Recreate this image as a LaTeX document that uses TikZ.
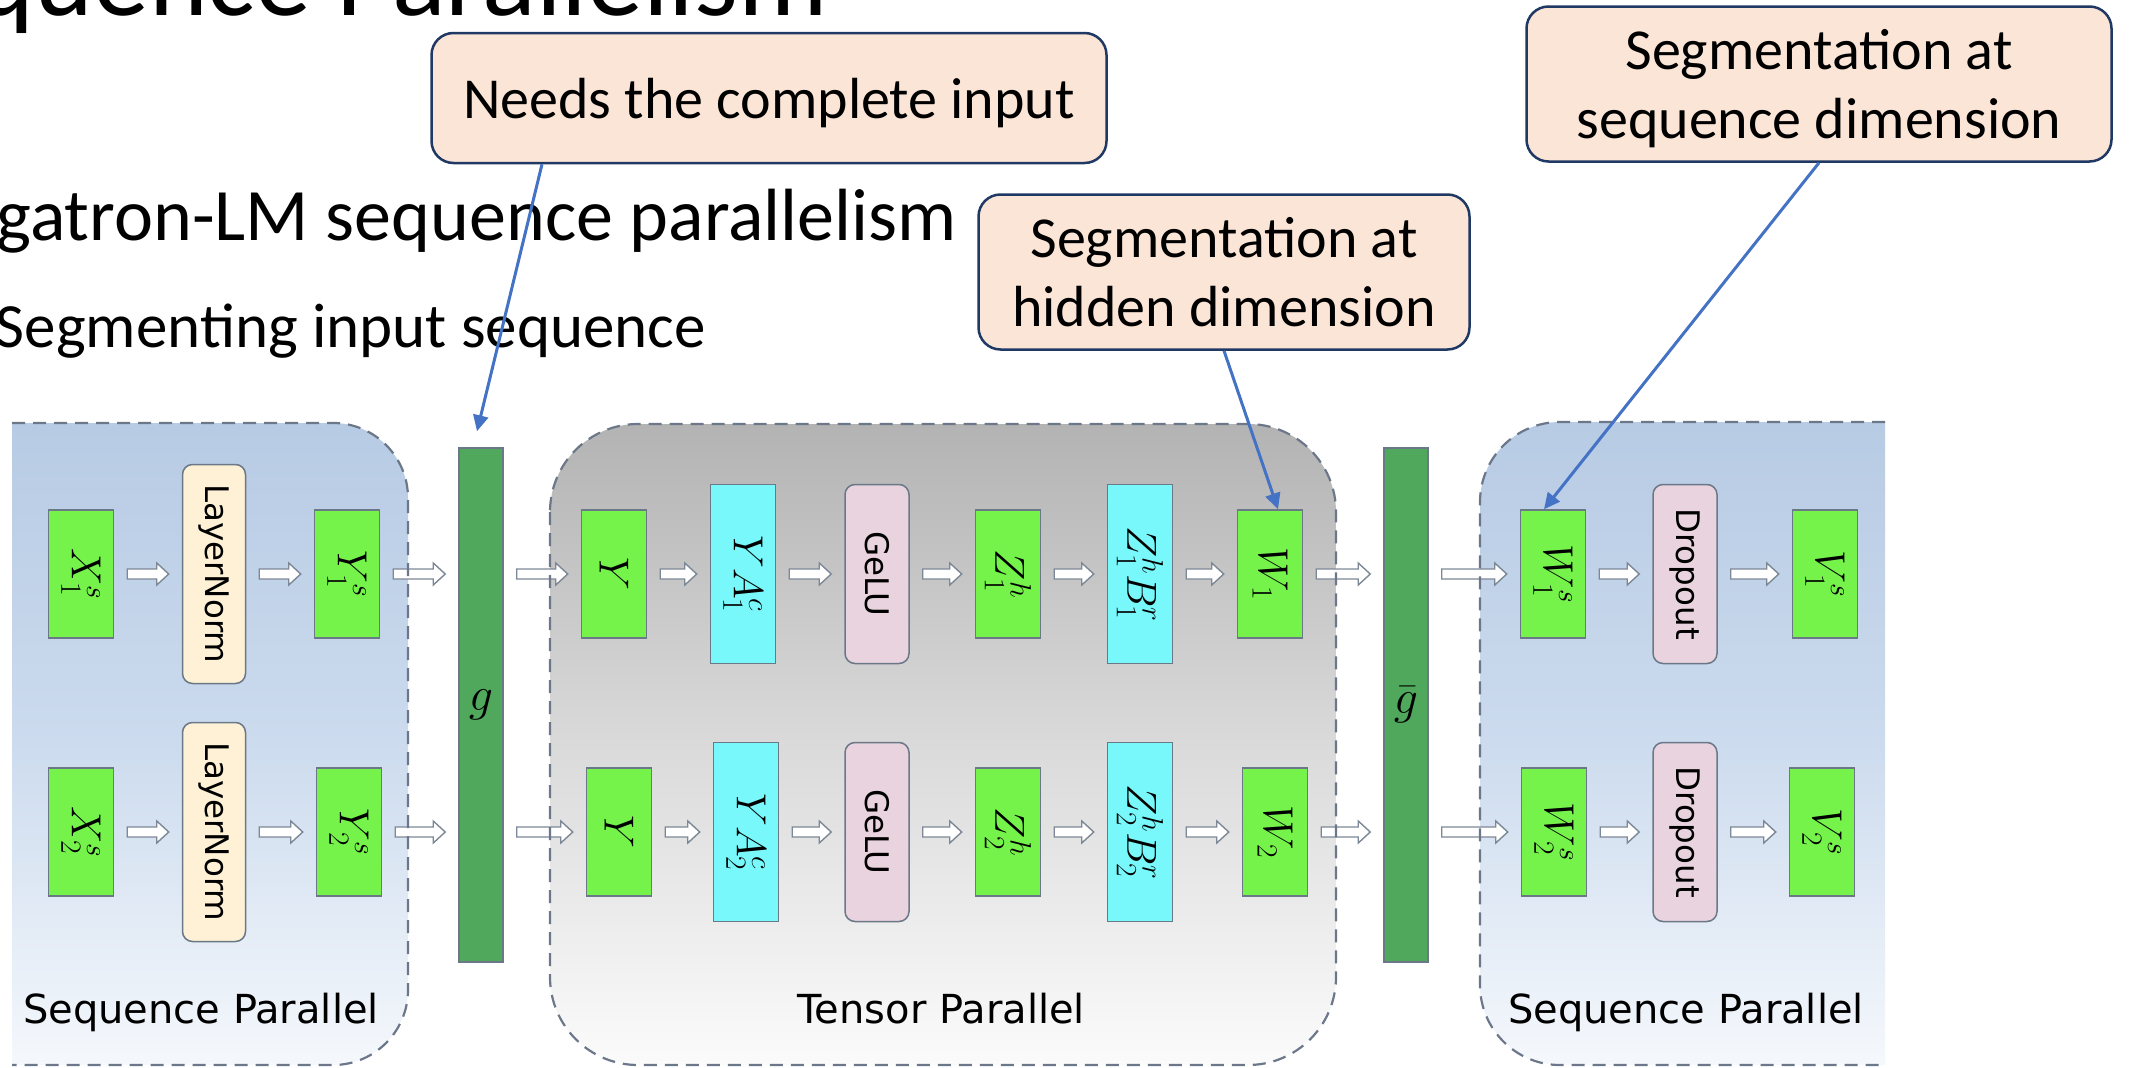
\RequirePackage{fix-cm}
\documentclass[tikz,border=0pt]{standalone}
\usepackage{graphicx}
\usepackage[no-math]{fontspec}
\setmainfont{Carlito}
\newfontfamily\boxfont{DejaVu Sans}
\usetikzlibrary{arrows.meta,calc}

\definecolor{vecgreen}{HTML}{75F34B}
\definecolor{matcyan}{HTML}{78F8FA}
\definecolor{normcream}{HTML}{FEF1D5}
\definecolor{actpink}{HTML}{E8D3DE}
\definecolor{bargreen}{HTML}{4FA85B}
\definecolor{boxline}{HTML}{6B7888}
\definecolor{pipeline}{HTML}{7D8896}
\definecolor{dashgray}{HTML}{6C7789}
\definecolor{spTop}{HTML}{B7CBE4}
\definecolor{spMid}{HTML}{CCDBEE}
\definecolor{spBot}{HTML}{F5F8FC}
\definecolor{tpTop}{HTML}{B3B3B3}
\definecolor{tpMid}{HTML}{DADADA}
\definecolor{tpBot}{HTML}{FBFBFB}
\definecolor{notefill}{HTML}{FBE5D6}
\definecolor{noteline}{HTML}{1F3864}
\definecolor{hintblue}{HTML}{4472C4}

\begin{document}
\begin{tikzpicture}[x=1pt,y=-1pt,
  every node/.style={inner sep=0pt},
  tensor/.style={draw=boxline,line width=1.5pt,fill=vecgreen,minimum width=65pt,minimum height=128pt,font=\fontsize{42}{50}\selectfont},
  matbox/.style={draw=boxline,line width=1.5pt,fill=matcyan,minimum width=65pt,minimum height=179pt,font=\fontsize{42}{50}\selectfont},
  normbox/.style={draw=boxline,line width=1.5pt,fill=normcream,rounded corners=10pt,minimum width=63pt,minimum height=219pt,font=\boxfont\fontsize{32.5}{39}\selectfont},
  actbox/.style={draw=boxline,line width=1.5pt,fill=actpink,rounded corners=10pt,minimum width=64pt,minimum height=179pt,font=\boxfont\fontsize{32.5}{39}\selectfont},
  gbar/.style={draw=boxline,line width=1.5pt,fill=bargreen,minimum width=44pt,minimum height=514pt,font=\fontsize{48}{56}\selectfont},
  pipe/.style={draw=pipeline,fill=white,line width=1.4pt,line join=miter},
  border/.style={draw=dashgray,line width=2.2pt,dash pattern=on 13pt off 8pt},
  part/.style={anchor=base,font=\boxfont\fontsize{40}{48}\selectfont},
  note/.style={draw=noteline,line width=2.5pt,fill=notefill,rounded corners=22pt,align=center,text depth=0pt,font=\fontsize{58}{69}\selectfont},
  hint/.style={draw=hintblue,line width=3pt,-{Triangle[length=16pt,width=15pt]}}]
\useasboundingbox (0,0) rectangle (2129,1068);

\node[anchor=base east,font=\fontsize{112}{134}\selectfont] (title) at (828,15) {quence Parallelism};
\node[anchor=base east,font=\fontsize{74}{89}\selectfont] (bullet) at (957,240) {gatron-LM sequence parallelism};
\node[anchor=base east,font=\fontsize{63}{76}\selectfont] (subbullet) at (706,347) {Segmenting input sequence};

\path[top color=spTop,bottom color=spBot,middle color=spMid] (12,423) -- (333,423) arc[start angle=90,end angle=0,radius=75pt] -- (408,990) arc[start angle=0,end angle=-90,radius=75pt] -- (12,1065) -- cycle;
\path[top color=tpTop,bottom color=tpBot,middle color=tpMid,rounded corners=88pt] (550,424) rectangle (1336,1065);
\path[top color=spTop,bottom color=spBot,middle color=spMid] (1885,422) -- (1560,422) arc[start angle=90,end angle=180,radius=80pt] -- (1480,985) arc[start angle=180,end angle=270,radius=80pt] -- (1885,1065) -- cycle;

\coordinate (r1) at (0,574);
\coordinate (r2) at (0,832);

\node[tensor] (x1) at (81,574) {\rotatebox{-90}{$X_1^s$}};
\node[normbox] (ln1) at (214,574) {\rotatebox{-90}{LayerNorm}};
\node[tensor] (y1) at (347,574) {\rotatebox{-90}{$Y_1^s$}};
\node[tensor] (x2) at (81,832) {\rotatebox{-90}{$X_2^s$}};
\node[normbox] (ln2) at (214,832) {\rotatebox{-90}{LayerNorm}};
\node[tensor] (y2) at (349,832) {\rotatebox{-90}{$Y_2^s$}};

\node[gbar] (g) at (481,705) {$g$};

\node[tensor] (ya) at (614,574) {\rotatebox{-90}{$Y$}};
\node[matbox] (a1) at (743,574) {\rotatebox{-90}{$YA_1^c$}};
\node[actbox] (gl1) at (877,574) {\rotatebox{-90}{GeLU}};
\node[tensor] (z1) at (1008,574) {\rotatebox{-90}{$Z_1^h$}};
\node[matbox] (b1) at (1140,574) {\rotatebox{-90}{$Z_1^hB_1^r$}};
\node[tensor] (w1) at (1270,574) {\rotatebox{-90}{$W_1$}};
\node[tensor] (yb) at (619,832) {\rotatebox{-90}{$Y$}};
\node[matbox] (a2) at (746,832) {\rotatebox{-90}{$YA_2^c$}};
\node[actbox] (gl2) at (877,832) {\rotatebox{-90}{GeLU}};
\node[tensor] (z2) at (1008,832) {\rotatebox{-90}{$Z_2^h$}};
\node[matbox] (b2) at (1140,832) {\rotatebox{-90}{$Z_2^hB_2^r$}};
\node[tensor] (w2) at (1275,832) {\rotatebox{-90}{$W_2$}};

\node[gbar] (gb) at (1406,705) {$\bar{g}$};

\node[tensor] (ws1) at (1553,574) {\rotatebox{-90}{$W_1^s$}};
\node[actbox] (d1) at (1685,574) {\rotatebox{-90}{Dropout}};
\node[tensor] (v1) at (1825,574) {\rotatebox{-90}{$V_1^s$}};
\node[tensor] (ws2) at (1554,832) {\rotatebox{-90}{$W_2^s$}};
\node[actbox] (d2) at (1685,832) {\rotatebox{-90}{Dropout}};
\node[tensor] (v2) at (1822,832) {\rotatebox{-90}{$V_2^s$}};

\foreach \src/\dst/\rw in {x1/ln1/r1,ln1/y1/r1,y1/g/r1,g/ya/r1,ya/a1/r1,a1/gl1/r1,gl1/z1/r1,z1/b1/r1,b1/w1/r1,w1/gb/r1,gb/ws1/r1,ws1/d1/r1,d1/v1/r1,
  x2/ln2/r2,ln2/y2/r2,y2/g/r2,g/yb/r2,yb/a2/r2,a2/gl2/r2,gl2/z2/r2,z2/b2/r2,b2/w2/r2,w2/gb/r2,gb/ws2/r2,ws2/d2/r2,d2/v2/r2}
  \draw[pipe] ($(\src.east |- \rw)+(13,5)$) -- ($(\dst.west |- \rw)+(-25,5)$) -- ++(0,6) -- ($(\dst.west |- \rw)+(-13,0)$) -- ($(\dst.west |- \rw)+(-25,-11)$) -- ++(0,6) -- ($(\src.east |- \rw)+(13,-5)$) -- cycle;

\draw[border] (12,423) -- (333,423) arc[start angle=90,end angle=0,radius=75pt] -- (408,990) arc[start angle=0,end angle=-90,radius=75pt] -- (12,1065);
\draw[border,rounded corners=88pt] (550,424) rectangle (1336,1065);
\draw[border] (1885,422) -- (1560,422) arc[start angle=90,end angle=180,radius=80pt] -- (1480,985) arc[start angle=180,end angle=270,radius=80pt] -- (1885,1065);

\node[part] (spleft) at (201,1023) {Sequence Parallel};
\node[part] (tp) at (941,1023) {Tensor Parallel};
\node[part] (spright) at (1686,1023) {Sequence Parallel};

\node[note,minimum width=675pt,minimum height=130pt] (needs) at (769,98) {Needs the complete input};
\node[note,minimum width=491pt,minimum height=155pt] (hidden) at (1224,272) {Segmentation at\\hidden dimension};
\node[note,minimum width=585pt,minimum height=155pt] (seqdim) at (1819,84) {Segmentation at\\sequence dimension};

\draw[hint] ([xshift=-227pt]needs.south) -- ([xshift=-4pt,yshift=16pt]g.north);
\draw[hint] (hidden.south) -- ([xshift=8pt]w1.north);
\draw[hint] (seqdim.south) -- ([xshift=-9pt]ws1.north);
\end{tikzpicture}
\end{document}
